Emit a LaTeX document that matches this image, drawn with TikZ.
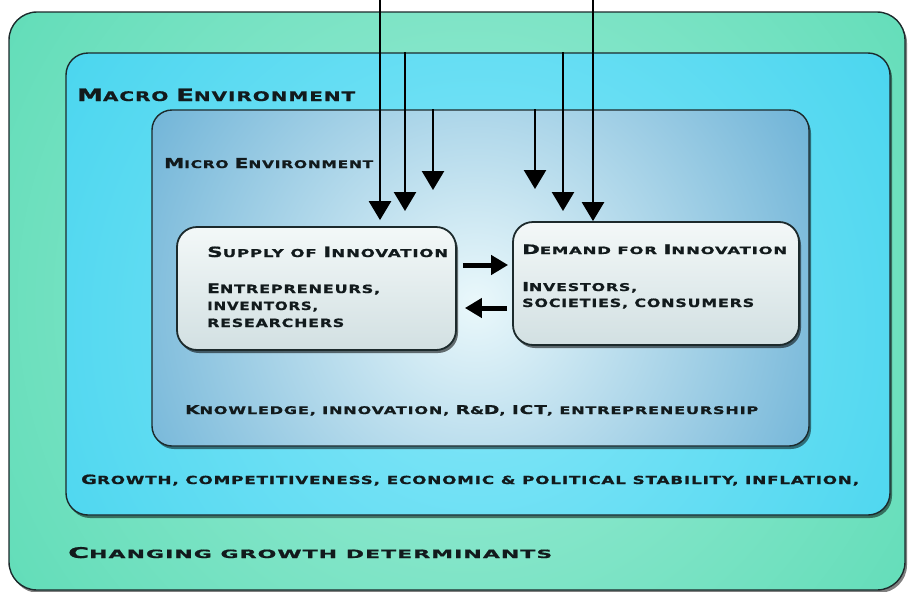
\documentclass[tikz,border=0pt]{standalone}
\usepackage{fontspec}
\usepackage{graphicx}
\usetikzlibrary{arrows.meta,shadows}
\newfontfamily\dfont[LetterSpace=5,FakeBold=0.8]{DejaVu Sans}
\definecolor{outerG}{HTML}{3AD3A5}
\definecolor{outerL}{HTML}{9FECD6}
\definecolor{macroC}{HTML}{1FC9E8}
\definecolor{macroL}{HTML}{86E7F8}
\definecolor{microD}{HTML}{2A8DC3}
\definecolor{microL}{HTML}{EAF8FB}
\definecolor{boxT}{HTML}{F3F8F8}
\definecolor{boxB}{HTML}{D2E0E2}
\definecolor{edge}{HTML}{1C2A2C}
\definecolor{ink}{HTML}{121A1C}
\newcommand\fitbox[3]{\resizebox{#1pt}{#2pt}{#3}}
\newcommand\Bg[1]{{\fontsize{13}{13}\selectfont #1}}
\newcommand\Bs[1]{{\fontsize{11.5}{11.5}\selectfont #1}}
\tikzset{
  bigbox/.style={rounded corners=#1, draw=edge, line width=1.4pt, inner sep=0pt,
    drop shadow={shadow xshift=2pt, shadow yshift=-3pt, opacity=.5, fill=black}},
  innerbox/.style={rounded corners=20pt, draw=edge, line width=1.8pt, inner sep=0pt,
    top color=boxT, bottom color=boxB,
    drop shadow={shadow xshift=2pt, shadow yshift=-3pt, opacity=.55, fill=black}},
  lbl/.style={anchor=base west, inner sep=0pt, text=ink, font=\dfont\bfseries\fontsize{10}{10}\selectfont},
  varrow/.style={line width=2.6pt, draw=black, -{Triangle[width=22pt,length=19pt]}},
  harrow/.style={line width=5pt, draw=black, -{Triangle[width=19pt,length=17pt]}},
}
\begin{document}
\begin{tikzpicture}[x=1pt,y=-1pt]
\useasboundingbox (0,0) rectangle (911,592);
\fill[white] (0,0) rectangle (911,592);
% outer box
\node[bigbox=28pt, minimum width=896pt, minimum height=578pt,
  path picture={\fill[outerG] (path picture bounding box.south west) rectangle (path picture bounding box.north east);
  \shade[inner color=outerL, outer color=outerG] ([shift={(10,0)}]path picture bounding box.center) circle (900);}]
  (outer) at (457,301) {};
% macro box
\node[bigbox=22pt, minimum width=824pt, minimum height=462pt,
  path picture={\fill[macroC] (path picture bounding box.south west) rectangle (path picture bounding box.north east);
  \shade[inner color=macroL, outer color=macroC] ([shift={(0,40)}]path picture bounding box.center) circle (860);}]
  (macro) at (478,284) {};
% micro box
\node[bigbox=20pt, minimum width=657pt, minimum height=336pt,
  path picture={\fill[microD] (path picture bounding box.south west) rectangle (path picture bounding box.north east);
  \shade[inner color=microL, outer color=microD] ([shift={(-5,25)}]path picture bounding box.center) circle (600);}]
  (micro) at (480.5,278) {};
% inner boxes
\node[innerbox, minimum width=279pt, minimum height=123pt] (supply) at (316.5,288.5) {};
\node[innerbox, minimum width=286pt, minimum height=123pt] (demand) at (656,283.5) {};
% texts
\node[lbl] (tmacro) at (77,101) {\fitbox{278}{12.5}{\Bg{M}ACRO \Bg{E}NVIRONMENT}};
\node[lbl] (tmicro) at (164,168) {\fitbox{209}{10}{\Bg{M}ICRO \Bg{E}NVIRONMENT}};
\node[lbl] (tsup) at (207,257) {\fitbox{241}{10.5}{\Bg{S}UPPLY OF \Bg{I}NNOVATION}};
\node[lbl] (tsup1) at (207,293) {\fitbox{173}{9.5}{\Bs{E}NTREPRENEURS,}};
\node[lbl] (tsup2) at (207,310) {\fitbox{111}{8.5}{INVENTORS,}};
\node[lbl] (tsup3) at (207,327) {\fitbox{137}{8.5}{RESEARCHERS}};
\node[lbl] (tdem) at (522,254) {\fitbox{265}{9.5}{\Bg{D}EMAND FOR \Bg{I}NNOVATION}};
\node[lbl] (tdem1) at (522,291) {\fitbox{115}{9}{\Bs{I}NVESTORS,}};
\node[lbl] (tdem2) at (522,307) {\fitbox{232}{8.5}{SOCIETIES, CONSUMERS}};
\node[lbl] (tknow) at (185,414) {\fitbox{573}{9}{\Bs{K}NOWLEDGE, INNOVATION, \Bs{R}\&\Bs{D}, \Bs{ICT}, ENTREPRENEURSHIP}};
\node[lbl] (tgrow) at (81,484) {\fitbox{778}{9.5}{\Bs{G}ROWTH, COMPETITIVENESS, ECONOMIC \& POLITICAL STABILITY, INFLATION,}};
\node[lbl] (tchg) at (68,558) {\fitbox{484}{11}{\Bg{C}HANGING GROWTH DETERMINANTS}};
% arrow coordinates
\coordinate (x1) at (380,0);
\coordinate (x2) at (405,0);
\coordinate (x3) at (433,0);
\coordinate (x4) at (535,0);
\coordinate (x5) at (563,0);
\coordinate (x6) at (593,0);
\coordinate (e2) at (405,211);
\coordinate (e3) at (433,190);
\coordinate (e4) at (535,189);
\coordinate (e5) at (563,211);
\coordinate (hr) at (0,265);
\coordinate (hl) at (0,308);
\draw[varrow] (x1) -- ([yshift=6pt]supply.north -| x1);
\draw[varrow] (macro.north -| x2) -- (e2);
\draw[varrow] (micro.north -| x3) -- (e3);
\draw[varrow] (micro.north -| x4) -- (e4);
\draw[varrow] (macro.north -| x5) -- (e5);
\draw[varrow] (x6) -- (demand.north -| x6);
\draw[harrow, shorten <=6pt, shorten >=4pt] (supply.east |- hr) -- (demand.west |- hr);
\draw[harrow, shorten <=5pt, shorten >=8pt] (demand.west |- hl) -- (supply.east |- hl);
\end{tikzpicture}
\end{document}
